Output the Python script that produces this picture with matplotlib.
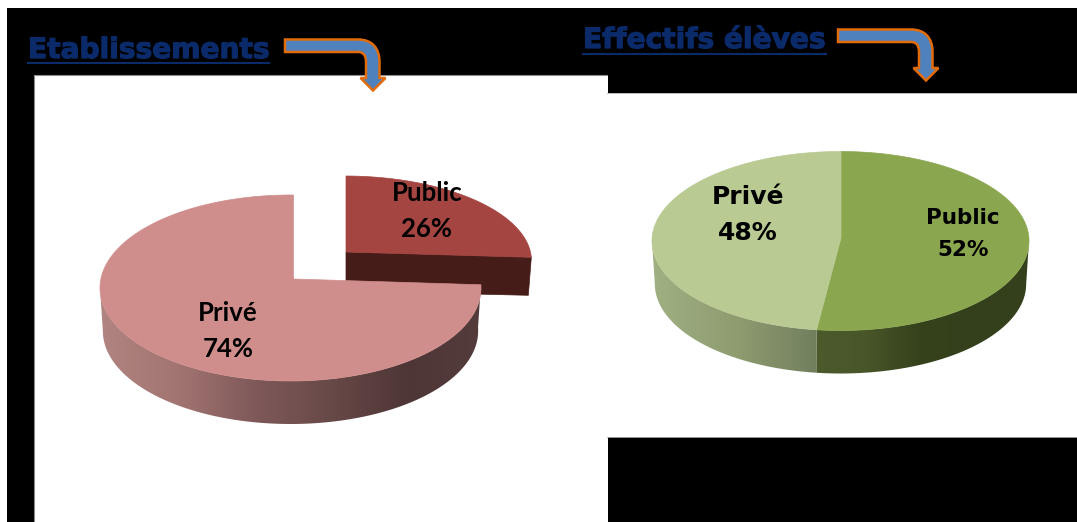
import matplotlib
matplotlib.use('Agg')
import matplotlib.pyplot as plt
import matplotlib.patheffects as pe
import numpy as np
from matplotlib.colors import LinearSegmentedColormap
from matplotlib.patches import PathPatch, Polygon, Rectangle
from matplotlib.path import Path

W, H = 1077, 522

titles = ['Etablissements', 'Effectifs élèves']
labels = ['Public', 'Privé']
etab_values = [26, 74]
effectifs_values = [52, 48]

NAVY = '#0b2a6a'


def rim_angle(ell, apex, deg):
    # the slice tip is not the ellipse centre (perspective), so follow the ray from the tip
    cx, cy, rx, ry = ell
    p = np.array([(apex[0] - cx) / rx, (cy - apex[1]) / ry])
    d = np.array([np.cos(np.radians(deg)), np.sin(np.radians(deg))])
    b = p @ d
    t = -b + np.sqrt(b * b - (p @ p - 1))
    q = p + t * d
    return np.degrees(np.arctan2(q[1], q[0]))


def arc(ell, a0, a1, n=200):
    cx, cy, rx, ry = ell
    t = np.radians(np.linspace(a0, a1, n))
    return np.c_[cx + rx * np.cos(t), cy - ry * np.sin(t)]


def side_face(ax, top, depth, stops, cx, x0, x1):
    low = top.copy()
    low[:, 0] = cx + (low[:, 0] - cx) * 0.985
    low[:, 1] += depth
    poly = Polygon(np.r_[top, low[::-1]], closed=True, fc='none', ec='none')
    ax.add_patch(poly)
    cmap = LinearSegmentedColormap.from_list('side', stops)
    grad = np.linspace(0, 1, 256).reshape(1, -1)
    im = ax.imshow(grad, cmap=cmap, extent=(x0, x1, 440, 230), aspect='auto',
                   zorder=2, interpolation='bilinear')
    im.set_clip_path(poly)


def bent_arrow(ax, dx, dy):
    verts = [(285, 39.5), (358, 39.5), (372, 39.5), (379.5, 48), (379.5, 62), (379.5, 78),
             (385.5, 78), (373, 90.5), (360.5, 78), (366, 78), (366, 62), (366, 55),
             (363, 52), (358, 52), (285, 52), (285, 39.5)]
    codes = [Path.MOVETO, Path.LINETO, Path.CURVE4, Path.CURVE4, Path.CURVE4, Path.LINETO,
             Path.LINETO, Path.LINETO, Path.LINETO, Path.LINETO, Path.LINETO, Path.CURVE4,
             Path.CURVE4, Path.CURVE4, Path.LINETO, Path.CLOSEPOLY]
    verts = [(x + dx, y + dy) for x, y in verts]
    ax.add_patch(PathPatch(Path(verts, codes), fc='#4f81bd', ec='#e36c0a', lw=1.8, zorder=8))


fig = plt.figure(figsize=(W / 100, H / 100), dpi=100, facecolor='white')
ax = fig.add_axes([0, 0, 1, 1])
ax.set_xlim(0, W)
ax.set_ylim(H, 0)
ax.axis('off')

# black background with the two white chart panels
ax.add_patch(Rectangle((7, 8), W - 7, H - 8, fc='black', ec='none', zorder=0))
ax.add_patch(Rectangle((33.5, 75), 574, H - 75, fc='white', ec='none', zorder=1))
ax.add_patch(Rectangle((607, 93), W - 607, 344, fc='white', ec='none', zorder=1))
ax.plot([33.5, 33.5, 607], [H, 75, 75], color='#8c8c8c', lw=0.8, zorder=1)
ax.plot([607, W], [93, 93], color='#b0b0b0', lw=0.6, zorder=1)
ax.plot([607, W], [437, 437], color='#b0b0b0', lw=0.6, zorder=1)

# left pie, angles come from the values
end = 90 - etab_values[0] / sum(etab_values) * 360

# public slice, pulled out to the upper right
pub_ell = (344.5, 261, 187, 85)
pub_c = (346, 252)
pub_top = arc(pub_ell, rim_angle(pub_ell, pub_c, 90), rim_angle(pub_ell, pub_c, end))
front = np.array([pub_c, pub_top[-1], pub_top[-1] + (-3, 38), (pub_c[0], pub_c[1] + 39)])
ax.add_patch(Polygon(front, closed=True, fc='#461c19', ec='#461c19', lw=0.5, zorder=2))
ax.add_patch(Polygon(np.r_[[pub_c], pub_top], closed=True, fc='#a54542', ec='#a54542', lw=0.5, zorder=3))

# private slice
pri_ell = (290.5, 288, 190.5, 93)
pri_c = (293.5, 279)
a_end = rim_angle(pri_ell, pri_c, end)
side_face(ax, arc(pri_ell, a_end, -180), 43,
          ['#b08480', '#a37572', '#80595a', '#684a48', '#4f3636', '#553c3c'],
          pri_ell[0], 100, 482)
pri_top = arc(pri_ell, a_end, rim_angle(pri_ell, pri_c, 90) - 360)
ax.add_patch(Polygon(np.r_[[pri_c], pri_top], closed=True, fc='#cf8e8c', ec='#cf8e8c', lw=0.5, zorder=4))

# right pie
split = 90 - effectifs_values[0] / sum(effectifs_values) * 360
ell2 = (840.5, 241, 188.5, 89.5)
c2 = (841, 238)
a_split = rim_angle(ell2, c2, split)
a_top = rim_angle(ell2, c2, 90)
side_face(ax, arc(ell2, 0, a_split), 43,
          ['#4c5a2c', '#485629', '#35421c', '#33401b', '#33401b'], ell2[0], 810, 1029)
side_face(ax, arc(ell2, a_split, -180), 43,
          ['#a0b083', '#8e9c70', '#6f7c5c'], ell2[0], 652, 824)
ax.add_patch(Polygon(np.r_[[c2], arc(ell2, a_top, a_split)], closed=True,
                     fc='#8aa64f', ec='#8aa64f', lw=0.5, zorder=4))
ax.add_patch(Polygon(np.r_[[c2], arc(ell2, a_split, a_top - 360)], closed=True,
                     fc='#b9ca93', ec='#b9ca93', lw=0.5, zorder=4))

# slice labels
lato = dict(family='Lato', weight='bold', color='black', ha='center', va='center',
            fontsize=18.5, zorder=6, linespacing=1.58)
wide = dict(family='DejaVu Sans', weight='bold', color='black', ha='center', va='center', zorder=6)
ax.text(427, 211, f'{labels[0]}\n{etab_values[0]}%', **lato)
ax.text(228, 331, f'{labels[1]}\n{etab_values[1]}%', **lato)
ax.text(963, 234, f'{labels[0]}\n{effectifs_values[0]}%', fontsize=15.5, linespacing=1.7, **wide)
ax.text(748, 215, f'{labels[1]}\n{effectifs_values[1]}%', fontsize=18, linespacing=1.6, **wide)

# titles
heavy = [pe.withStroke(linewidth=0.9, foreground=NAVY)]
ax.text(28, 50, titles[0], family='DejaVu Sans', weight='bold', fontsize=20.2, color=NAVY,
        ha='left', va='center', zorder=6, path_effects=heavy)
ax.plot([28, 269], [62.5, 62.5], color=NAVY, lw=1.5, zorder=6)
ax.text(583, 40, titles[1], family='DejaVu Sans', weight='bold', fontsize=20.2, color=NAVY,
        ha='left', va='center', zorder=6, path_effects=heavy)
ax.plot([583, 826], [53.5, 53.5], color=NAVY, lw=1.5, zorder=6)

bent_arrow(ax, 0, 0)
bent_arrow(ax, 553, -10)

ax.set_xlim(0, W)
ax.set_ylim(H, 0)
fig.savefig('out.png', dpi=100)
